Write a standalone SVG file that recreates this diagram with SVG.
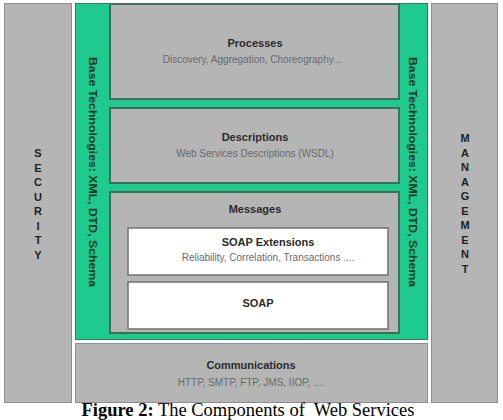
<svg xmlns="http://www.w3.org/2000/svg" width="503" height="420" viewBox="0 0 503 420">
<style>
.side{fill:#b5b5b5;stroke:#8e8e8e;stroke-width:1}
.layer{fill:#b5b5b5;stroke:#3f6f58;stroke-width:2}
.inner{fill:#ffffff;stroke:#707070;stroke-width:1.5}
.t{font-family:"Liberation Sans",Arial,sans-serif;font-size:11px;font-weight:bold;fill:#2b2b2b;text-anchor:middle}
.s{font-family:"Liberation Sans",Arial,sans-serif;font-size:10px;fill:#6a6a6a;text-anchor:middle}
.l{font-family:"Liberation Sans",Arial,sans-serif;font-size:11px;font-weight:bold;fill:#222;text-anchor:middle}
.v{font-family:"Liberation Sans",Arial,sans-serif;font-size:11px;font-weight:bold;fill:#153a28}
.cap{font-family:"Liberation Serif","Times New Roman",serif;font-size:18.5px;fill:#000;text-anchor:middle}
</style>
<rect width="503" height="420" fill="#ffffff"/>
<g id="security">
<rect class="side" x="4.5" y="3.5" width="67" height="399"/>
<text class="l" x="38"><tspan x="38" y="157">S</tspan><tspan x="38" y="171.5">E</tspan><tspan x="38" y="186">C</tspan><tspan x="38" y="200.5">U</tspan><tspan x="38" y="215">R</tspan><tspan x="38" y="229.5">I</tspan><tspan x="38" y="244">T</tspan><tspan x="38" y="258.5">Y</tspan></text>
</g>
<g id="management">
<rect class="side" x="431.5" y="3.5" width="66" height="399"/>
<text class="l"><tspan x="465" y="142">M</tspan><tspan x="465" y="156.5">A</tspan><tspan x="465" y="171">N</tspan><tspan x="465" y="185.5">A</tspan><tspan x="465" y="200">G</tspan><tspan x="465" y="214.5">E</tspan><tspan x="465" y="229">M</tspan><tspan x="465" y="243.5">E</tspan><tspan x="465" y="258">N</tspan><tspan x="465" y="272.5">T</tspan></text>
</g>
<g id="base-technologies">
<rect x="75.5" y="3.5" width="352" height="336" fill="#1fca8e" stroke="#2f7f5c" stroke-width="1"/>
<text class="v" transform="translate(89,57) rotate(90)" textLength="230" lengthAdjust="spacingAndGlyphs">Base Technologies: XML, DTD, Schema</text>
<text class="v" transform="translate(409,57) rotate(90)" textLength="230" lengthAdjust="spacingAndGlyphs">Base Technologies: XML, DTD, Schema</text>
</g>
<g id="processes">
<rect class="layer" x="110" y="4" width="289" height="95"/>
<text class="t" x="255" y="47">Processes</text>
<text class="s" x="252" y="63">Discovery, Aggregation, Choreography...</text>
</g>
<g id="descriptions">
<rect class="layer" x="110" y="108" width="289" height="75"/>
<text class="t" x="255" y="141">Descriptions</text>
<text class="s" x="255" y="157">Web Services Descriptions (WSDL)</text>
</g>
<g id="messages">
<rect class="layer" x="110" y="192" width="289" height="141"/>
<text class="t" x="255" y="213">Messages</text>
</g>
<g id="soap-extensions">
<rect class="inner" x="128" y="228" width="260" height="47"/>
<text class="t" x="268" y="246">SOAP Extensions</text>
<text class="s" x="268" y="261">Reliability, Correlation, Transactions ....</text>
</g>
<g id="soap">
<rect class="inner" x="128" y="282" width="260" height="47"/>
<text class="t" x="258" y="307">SOAP</text>
</g>
<g id="communications">
<rect class="side" x="75.5" y="343.5" width="352" height="59"/>
<text class="t" x="251" y="369">Communications</text>
<text class="s" x="251" y="386">HTTP, SMTP, FTP, JMS, IIOP, ....</text>
</g>
<g id="connectors"></g>
<text class="cap" x="248" y="416" xml:space="preserve"><tspan font-weight="bold">Figure 2:</tspan> The Components of  Web Services</text>
</svg>
